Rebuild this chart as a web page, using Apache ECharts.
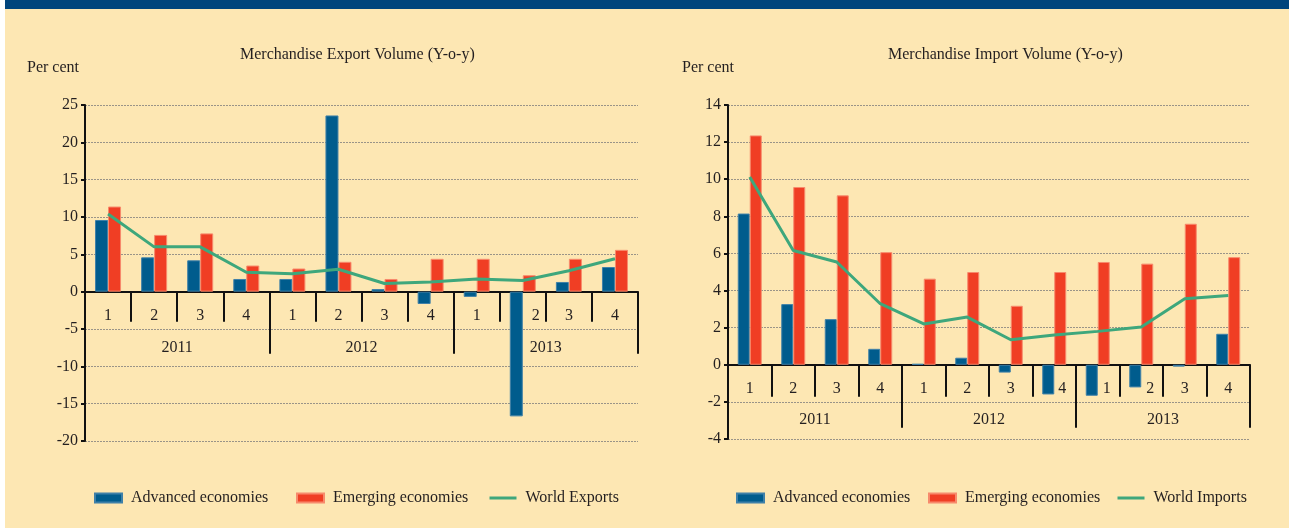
<!DOCTYPE html>
<html>
<head>
<meta charset="utf-8">
<script src="https://cdn.jsdelivr.net/npm/echarts@6/dist/echarts.min.js"></script>
<style>
  html, body { margin: 0; padding: 0; background: #fff; }
  #chart { width: 1289px; height: 528px; }
</style>
</head>
<body>
<div id="chart"></div>
<script>
// Quarters and years shared by both panels
const quarters = ["1", "2", "3", "4", "1", "2", "3", "4", "1", "2", "3", "4"];
const years = ["2011", "2012", "2013"];

// Merchandise export volume, y-o-y %
const exportAdvanced = [9.6, 4.6, 4.2, 1.7, 1.7, 23.6, 0.35, -1.65, -0.7, -16.7, 1.3, 3.3];
const exportEmerging = [11.4, 7.6, 7.8, 3.5, 3.1, 4.0, 1.7, 4.4, 4.4, 2.2, 4.4, 5.6];
const worldExports = [10.4, 6.0, 6.0, 2.6, 2.4, 3.0, 1.1, 1.3, 1.7, 1.5, 2.8, 4.4];

// Merchandise import volume, y-o-y %
const importAdvanced = [8.15, 3.27, 2.46, 0.86, 0.05, 0.38, -0.42, -1.6, -1.67, -1.22, -0.1, 1.67];
const importEmerging = [12.36, 9.58, 9.13, 6.07, 4.64, 5.0, 3.18, 5.0, 5.54, 5.45, 7.6, 5.8];
const worldImports = [10.12, 6.16, 5.54, 3.29, 2.2, 2.57, 1.35, 1.6, 1.8, 2.03, 3.56, 3.74];

// y scales
const exportMin = -20, exportMax = 25, exportStep = 5;
const importMin = -4, importMax = 14, importStep = 2;

const FONT = "Liberation Serif";
const TEXT = "#231f20";
const BLUE = "#005c8d";
const RED = "#f03e24";
const GREEN = "#3ea77c";

const chart = echarts.init(document.getElementById("chart"));

const textStyle = { fontFamily: FONT, fontSize: 16, color: TEXT, fontWeight: "normal" };

// plot areas
const plotL = { left: 85, top: 105, width: 553, height: 336 };
const plotR = { left: 728, top: 105, width: 522, height: 334 };

// a strip grid hanging below the zero line, to hold the quarter / year rows
function zeroStrip(plot, min, max) {
  const zeroY = plot.top + plot.height * max / (max - min);
  return { left: plot.left, width: plot.width, top: zeroY, height: 70 };
}

function valueAxis(gridIndex, min, max, interval) {
  return {
    type: "value",
    gridIndex: gridIndex,
    min: min,
    max: max,
    interval: interval,
    axisLine: { show: true, lineStyle: { color: "#111", width: 2 } },
    axisTick: { show: true, length: 4, lineStyle: { color: "#111", width: 2 } },
    axisLabel: { margin: 7, fontFamily: FONT, fontSize: 16, color: TEXT },
    splitLine: { show: true, lineStyle: { color: "#9a9488", type: [2, 1], width: 1 } },
  };
}

function hiddenY(gridIndex) {
  return { type: "value", gridIndex: gridIndex, min: 0, max: 1, show: false };
}

// plot x axis: only used for placing bars
function plotX(gridIndex) {
  return {
    type: "category",
    gridIndex: gridIndex,
    data: quarters,
    axisLine: { show: false },
    axisTick: { show: false },
    axisLabel: { show: false },
  };
}

// quarter labels, nudged right where a negative bar hangs over them
function quarterLabels(nudge) {
  return quarters.map((q, i) =>
    nudge[i] ? { value: q, textStyle: { padding: [0, 0, 0, nudge[i] * 2] } } : q
  );
}

// label rows, pointing downwards from the zero line
function rowAxis(gridIndex, data, tickLen, labelMargin, showLine) {
  return {
    type: "category",
    gridIndex: gridIndex,
    position: "top",
    data: data,
    z: 1,
    axisLine: { show: showLine, onZero: false, lineStyle: { color: "#111", width: 2 } },
    axisTick: { show: true, inside: true, interval: 0, length: tickLen, lineStyle: { color: "#111", width: 2 } },
    axisLabel: { inside: true, interval: 0, margin: labelMargin, fontFamily: FONT, fontSize: 16, color: TEXT, verticalAlign: "top" },
    splitLine: { show: false },
  };
}

function barSeries(name, xIdx, yIdx, data, color, border, width) {
  return {
    name: name,
    type: "bar",
    xAxisIndex: xIdx,
    yAxisIndex: yIdx,
    data: data,
    barWidth: width,
    barGap: "0%",
    itemStyle: { color: color, borderColor: border, borderWidth: 1 },
    z: 4,
  };
}

function lineSeries(name, xIdx, yIdx, data) {
  return {
    name: name,
    type: "line",
    xAxisIndex: xIdx,
    yAxisIndex: yIdx,
    data: data,
    symbol: "none",
    lineStyle: { color: GREEN, width: 3 },
    itemStyle: { color: GREEN },
    z: 6,
  };
}

function legendItem(name, left, isLine) {
  const item = isLine
    ? { name: name, itemStyle: { color: "rgba(0,0,0,0)", opacity: 0, borderWidth: 0 } }
    : { name: name, icon: "rect" };
  return {
    data: [item],
    left: left,
    top: 490,
    padding: 0,
    itemWidth: 27,
    itemHeight: 9,
    itemGap: 10,
    lineStyle: { width: 3 },
    textStyle: { fontFamily: FONT, fontSize: 16, color: TEXT, padding: [0, 0, 0, 4] },
  };
}

const option = {
  backgroundColor: "#fde7b3",
  animation: false,
  graphic: [
    { type: "rect", left: 0, top: 0, shape: { width: 1289, height: 9 }, style: { fill: "#00457c" }, z: 10 },
    { type: "rect", left: 0, top: 0, shape: { width: 5, height: 528 }, style: { fill: "#ffffff" }, z: 11 },
  ],
  title: [
    { text: "Merchandise Export Volume (Y-o-y)", left: 240, top: 47, padding: 0, textStyle: textStyle },
    { text: "Per cent", left: 27, top: 60, padding: 0, textStyle: textStyle },
    { text: "Merchandise Import Volume (Y-o-y)", left: 888, top: 47, padding: 0, textStyle: textStyle },
    { text: "Per cent", left: 682, top: 60, padding: 0, textStyle: textStyle },
  ],
  legend: [
    legendItem("Advanced economies", 94),
    legendItem("Emerging economies", 296),
    legendItem("World Exports", 488, true),
    legendItem("Advanced economies", 736),
    legendItem("Emerging economies", 928),
    legendItem("World Imports", 1116, true),
  ],
  grid: [
    plotL,
    zeroStrip(plotL, exportMin, exportMax),
    plotR,
    zeroStrip(plotR, importMin, importMax),
  ],
  xAxis: [
    plotX(0),
    rowAxis(1, quarterLabels({ 9: 13 }), 30, 16, true),
    rowAxis(1, years, 62, 48, false),
    plotX(2),
    rowAxis(3, quarterLabels({ 7: 8, 8: 9, 9: 9 }), 32, 16, true),
    rowAxis(3, years, 63, 47, false),
  ],
  yAxis: [
    valueAxis(0, exportMin, exportMax, exportStep),
    hiddenY(1),
    valueAxis(2, importMin, importMax, importStep),
    hiddenY(3),
  ],
  series: [
    barSeries("Advanced economies", 0, 0, exportAdvanced, BLUE, "#3f80a8", 13),
    barSeries("Emerging economies", 0, 0, exportEmerging, RED, "#f78a6c", 13),
    lineSeries("World Exports", 0, 0, worldExports),
    barSeries("Advanced economies", 3, 2, importAdvanced, BLUE, "#3f80a8", 12),
    barSeries("Emerging economies", 3, 2, importEmerging, RED, "#f78a6c", 12),
    lineSeries("World Imports", 3, 2, worldImports),
  ],
};

chart.setOption(option);
window.addEventListener("resize", () => chart.resize());
</script>
</body>
</html>
